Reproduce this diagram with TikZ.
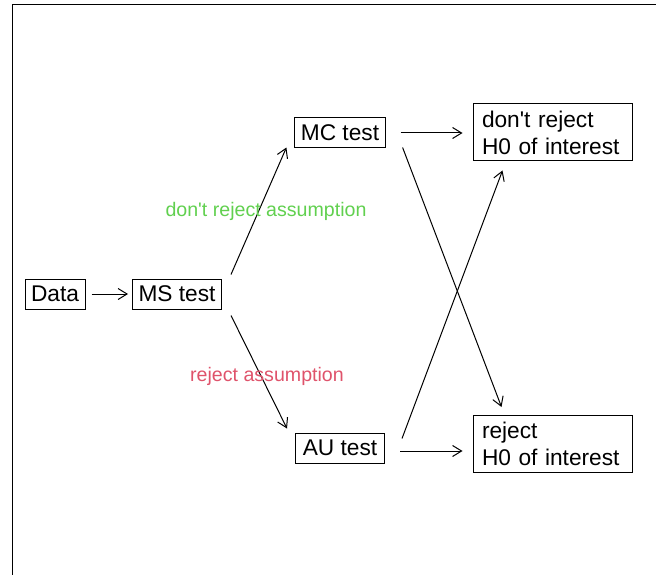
\documentclass[tikz,border=0pt]{standalone}
\usepackage{fontspec}
\setmainfont{Liberation Sans}
\usepackage{xcolor}
\usetikzlibrary{arrows.meta,positioning,calc}
\definecolor{assumgreen}{HTML}{61D04F}
\definecolor{assumred}{HTML}{DF536B}

\begin{document}
\begin{tikzpicture}[x=1pt,y=-1pt,line width=1pt,
	box/.style={draw,rectangle,inner xsep=6pt,inner ysep=2pt,minimum height=30pt,font=\fontsize{22.7}{27}\selectfont},
	testbox/.style={box,minimum width=89pt},
	resbox/.style={box,align=left,text width=141pt,inner xsep=9pt,minimum height=57pt},
	arr/.style={-{Straight Barb[length=9pt,width=11pt]}},
	lab/.style={font=\fontsize{19.6}{23}\selectfont}]
	\useasboundingbox (0,0) rectangle (656,575);
	% Frame
	\draw (12,575) -- (12,5) -- (656,5);

	% Data and model selection
	\node[box,minimum width=60pt] (data) at (55,294) {Data};
	\node[testbox] (ms) at (177,294) {MS test};
	\draw[arr,shorten <=6pt,shorten >=4pt] (data) -- (ms);

	% Tests
	\node[testbox] (mc) at (340,133) {MC test};
	\node[testbox] (au) at (340,448) {AU test};
	\draw[arr] ([shift={(9,-4)}]ms.north east) -- ([shift={(-8,-1)}]mc.south west);
	\draw[arr] ([shift={(9,6)}]ms.south east) -- ([shift={(-8,-4)}]au.north west);

	% Labels
	\node[lab,text=assumgreen] (nrejlab) at (266,211) {don\textquotesingle t reject assumption};
	\node[lab,text=assumred] (rejlab) at (267,376) {reject assumption};

	% Decisions
	\node[resbox] (nrej) at (552.5,132.5) {don\textquotesingle t reject\\H0 of interest};
	\node[resbox] (rej) at (552.5,444) {reject\\H0 of interest};
	\draw[arr,shorten <=15pt,shorten >=10pt] (mc.east) -- (mc.east -| nrej.west);
	\draw[arr,shorten <=15pt,shorten >=10pt] ([yshift=-3pt]au.east) -- ([yshift=-3pt]au.east -| rej.west);
	\draw[arr] ([shift={(17,-1)}]mc.south east) -- ([shift={(29,-8)}]rej.north west);
	\draw[arr] ([shift={(17,6)}]au.north east) -- ([shift={(30,9)}]nrej.south west);
\end{tikzpicture}
\end{document}
